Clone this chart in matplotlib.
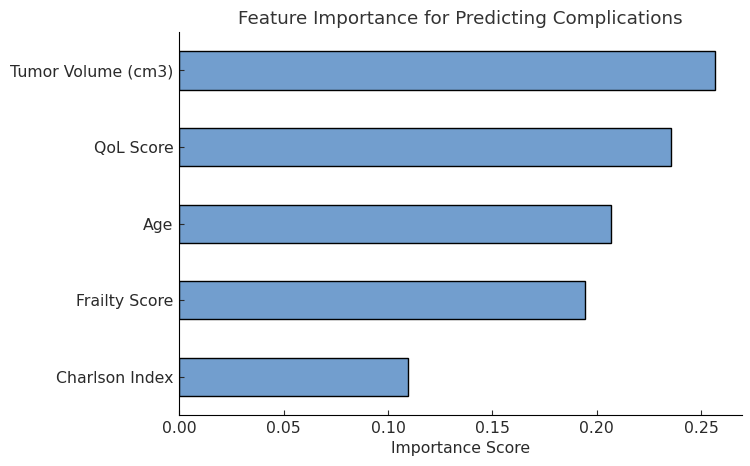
import matplotlib

matplotlib.use("Agg")
import matplotlib.pyplot as plt

features = ["Charlson Index", "Frailty Score", "Age", "QoL Score", "Tumor Volume (cm3)"]
importance = [0.1097, 0.1944, 0.2069, 0.2356, 0.2567]

TEXT = "#2a2a2a"
plt.rcParams["text.color"] = TEXT
plt.rcParams["axes.labelcolor"] = TEXT
plt.rcParams["xtick.color"] = TEXT
plt.rcParams["ytick.color"] = TEXT

fig = plt.figure(figsize=(7.5, 4.66), dpi=100)
ax = fig.add_axes([0.239, 0.109, 0.75, 0.822])
ax.barh(features, importance, height=0.5, color="#729ECE", edgecolor="black", linewidth=1)
ax.set_xlim(0, max(importance) * 1.05)
ax.set_ylim(-0.5, len(features) - 0.5)
ax.spines["top"].set_visible(False)
ax.spines["right"].set_visible(False)
ax.tick_params(direction="in", labelsize=11.3)
ax.tick_params(axis="y", pad=4)
ax.tick_params(axis="x", pad=4)
ax.set_xticks([0, 0.05, 0.1, 0.15, 0.2, 0.25])
ax.set_xlabel("Importance Score", fontsize=11.3, labelpad=4)
ax.set_title("Feature Importance for Predicting Complications", fontsize=13.2, color="#333333", pad=6)
fig.savefig("out.png", dpi=100)
